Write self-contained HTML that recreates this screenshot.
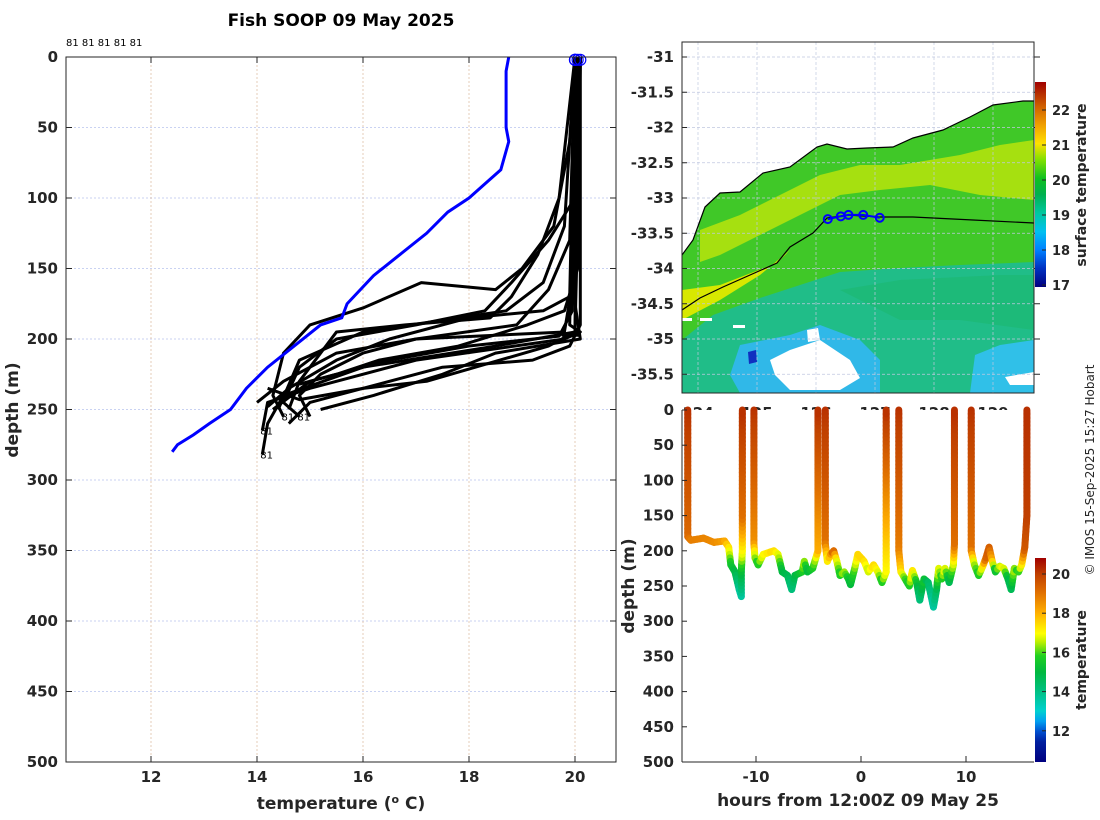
<!DOCTYPE html>
<html><head><meta charset="utf-8">
<style>
body{margin:0;background:#fff;}
svg{display:block;font-family:"DejaVu Sans","Liberation Sans",sans-serif;}
.tk{font-size:15px;font-weight:bold;fill:#262626;}
.lb{font-size:17px;font-weight:bold;fill:#262626;}
</style></head>
<body>
<svg id="fig" width="1100" height="820" viewBox="0 0 1100 820" xmlns="http://www.w3.org/2000/svg">
<defs>
<clipPath id="clipL"><rect x="66" y="57" width="550" height="705"/></clipPath>
<clipPath id="clipM"><rect x="682" y="42" width="352" height="351"/></clipPath>
<clipPath id="clipB"><rect x="682" y="406" width="352" height="356"/></clipPath>
<clipPath id="clipLab"><rect x="682" y="393" width="352" height="17"/></clipPath>
<linearGradient id="cbTop" x1="0" y1="1" x2="0" y2="0">
<stop offset="0" stop-color="#00007f"/><stop offset="0.09" stop-color="#0030c0"/><stop offset="0.18" stop-color="#0080ff"/><stop offset="0.27" stop-color="#00c0f0"/><stop offset="0.36" stop-color="#00c8a0"/><stop offset="0.45" stop-color="#00b050"/><stop offset="0.53" stop-color="#10c020"/><stop offset="0.62" stop-color="#80e000"/><stop offset="0.7" stop-color="#ffe000"/><stop offset="0.79" stop-color="#f0a000"/><stop offset="0.88" stop-color="#d06000"/><stop offset="1" stop-color="#a00000"/>
</linearGradient>
<linearGradient id="cbBot" x1="0" y1="1" x2="0" y2="0">
<stop offset="0" stop-color="#00007f"/><stop offset="0.1" stop-color="#0020a0"/><stop offset="0.15" stop-color="#0050d0"/><stop offset="0.2" stop-color="#00a0f0"/><stop offset="0.25" stop-color="#00d0d0"/><stop offset="0.35" stop-color="#00c080"/><stop offset="0.44" stop-color="#00b840"/><stop offset="0.52" stop-color="#20d020"/><stop offset="0.59" stop-color="#c0f000"/><stop offset="0.63" stop-color="#ffff00"/><stop offset="0.73" stop-color="#ffb000"/><stop offset="0.83" stop-color="#e07000"/><stop offset="0.92" stop-color="#c04000"/><stop offset="1" stop-color="#a00000"/>
</linearGradient>
</defs>
<text x="341" y="26" text-anchor="middle" style="font-size:17px;font-weight:bold">Fish SOOP 09 May 2025</text>
<g id="left"></g>
<g id="map"></g>
<g id="sect"></g>
<text transform="translate(1094,470) rotate(-90)" text-anchor="middle" style="font-size:12px;fill:#262626">© IMOS 15-Sep-2025 15:27 Hobart</text>
</svg>
<script>
// ---------- Data ----------
const xTicksL = [12, 14, 16, 18, 20];
const yTicksL = [0, 50, 100, 150, 200, 250, 300, 350, 400, 450, 500];
const meanTemp = [18.75,18.7,18.7,18.75,18.6,18.3,18.0,17.6,17.2,16.7,16.2,15.7,15.6,15.2,14.7,14.2,13.8,13.5,13.1,12.8,12.5,12.4];
const meanDepth = [0,10,50,60,80,90,100,110,125,140,155,175,185,190,205,220,235,250,260,268,275,280];
const profTemps = [
 [20,20,19.95,19.9,20.1,19.8,17,15,14.2,14.1],
 [20.1,20.05,20,18.5,16,14.5,14.2,14.1],
 [20,19.9,19.6,19,18.5,17.1,16,15,14.5,14.3,14.5],
 [20.05,20,19.5,18.8,18.3,17,15.5,14.8,14.5,14.8],
 [20,19.8,19.4,18.7,17.8,16,14.8,14.4],
 [20.1,20,19.8,17,16,15.2,14.8,15],
 [20,19.95,19.7,18,16.5,15,14.3],
 [20.05,20,20.1,18.5,17.5,16.2,15.2],
 [20,19.9,19.5,18.9,17,15.5,14.5,14],
 [20.1,20.1,19.9,19.2,17.5,16,15,14.6],
 [20,19.7,19.3,18.8,18.4,16.8,15.5,14.8,14.6],
 [20.05,20,19.5,17.2,16,14.8,14.2],
 [20,19.9,19.4,18,16.5,15.5,14.6,14.2],
 [20.1,20.05,19.8,19.1,17.8,16.3,15.5,14.8]
];
const profDepths = [
 [0,5,100,190,195,200,215,235,245,265],
 [0,120,195,205,220,240,260,282],
 [0,60,120,150,165,160,178,190,210,240,255],
 [0,100,130,160,180,190,200,220,245,255],
 [0,120,160,180,185,195,215,250],
 [0,150,195,200,210,225,240,255],
 [0,180,198,205,215,230,250],
 [0,175,200,210,225,240,250],
 [0,130,165,190,200,210,230,245],
 [0,190,205,215,220,235,245,260],
 [0,100,140,170,185,190,195,230,250],
 [0,195,205,230,235,243,235],
 [0,170,180,185,200,215,235,248],
 [0,150,180,190,205,215,225,232]
];
const latTicks = [-31,-31.5,-32,-32.5,-33,-33.5,-34,-34.5,-35,-35.5];
const lonTicks = [124,125,126,127,128,129];
const stationLon = [126.2,126.42,126.55,126.8,127.08];
const stationLat = [-33.3,-33.26,-33.24,-33.24,-33.28];
const sstTicks = [17,18,19,20,21,22];
const hrTicks = [-10,0,10];
const dTicksB = [0,50,100,150,200,250,300,350,400,450,500];
const tTicksB = [12,14,16,18,20];
const castHours = [
 [-16.5,-16.5,-16.2,-15,-14,-13,-12.6,-12.4,-12,-11.6,-11.4,-11.4,-11.3,-11.3,-11.3],
 [-10.2,-10.2,-10.1,-9.8,-9.3,-8.3,-7.9,-7.5,-7,-6.6,-6.3,-5.6,-5.4,-5.1,-4.6,-4.3,-4.1,-4.1],
 [-3.4,-3.4,-3.2,-2.9,-2.6,-2.3,-2,-1.6,-1.2,-1,-0.6,-0.3,0.3,0.7,1.2,1.6,2.0,2.4,2.4],
 [3.6,3.6,3.8,4.2,4.6,4.9,5.3,5.6,6,6.4,6.9,7.2,7.4,7.7,8,8.4,8.8,8.9,8.9],
 [10.5,10.5,10.8,11.2,11.6,11.9,12.2,12.5,12.8,13.2,13.6,14.0,14.3,14.6,15,15.3,15.6,15.8,15.8]
];
const castDepths = [
 [0,180,185,182,188,186,195,220,230,255,265,230,200,150,0],
 [0,190,210,220,205,200,205,230,235,255,235,230,215,230,225,210,200,0],
 [0,190,215,205,200,215,235,230,240,248,225,205,215,230,220,230,245,230,0],
 [0,200,230,240,250,228,245,270,240,245,280,255,225,240,225,245,220,190,0],
 [0,200,220,235,222,210,195,215,230,222,225,240,255,225,230,220,195,150,0]
];
const castTemps = [
 [20.2,19.2,18.8,18.7,18.6,18.3,17.5,15.5,15,13.8,13.5,15,17,19,20.2],
 [20.2,18.5,16.5,15.5,17,17.5,17,15,14.8,14,14.8,15.5,16.5,15,15.5,16.5,18,20.2],
 [20.2,19,17,18,19.5,17,15.5,16.5,15.5,15,16,17.5,17.5,16.5,17.5,17,15.5,17,20.2],
 [20.2,18.8,17.5,16,15.5,17.5,15.5,14,15.5,14.5,13.5,14.5,17,15.5,17,14.5,16.5,19,20.2],
 [20.2,19,16.5,15.5,17,19.2,19.5,18,15,16.5,17,15,14.5,16.5,15.5,17,19.5,20,20.2]
];

// ---------- helpers ----------
const NS = "http://www.w3.org/2000/svg";
function mk(tag, attrs, parent){const e=document.createElementNS(NS,tag);for(const k in attrs)e.setAttribute(k,attrs[k]);parent.appendChild(e);return e;}

// ---------- Left profile panel ----------
const L = document.getElementById('left');
const xL = t => 151 + (t-12)*53;
const yL = d => 57 + d*1.41;
yTicksL.forEach(v=>{
  const g=mk('line',{x1:66,x2:616,y1:yL(v),y2:yL(v),stroke:'#b8c4ee','stroke-width':0.8,'stroke-dasharray':'2,2'},L);
  
  
  const t=mk('text',{x:58,y:yL(v)+5,'text-anchor':'end',class:'tk'},L);t.textContent=v;
  
  
  mk('line',{x1:66,x2:72,y1:yL(v),y2:yL(v),stroke:'#262626'},L);
  mk('line',{x1:610,x2:616,y1:yL(v),y2:yL(v),stroke:'#262626'},L);
});
xTicksL.forEach(v=>{
  const g=mk('line',{x1:xL(v),x2:xL(v),y1:57,y2:762,stroke:'#e0c0a8','stroke-width':0.8,'stroke-dasharray':'2,2'},L);
  
  
  const t=mk('text',{x:xL(v),y:782,'text-anchor':'middle',class:'tk'},L);t.textContent=v;
  
  
  mk('line',{x1:xL(v),x2:xL(v),y1:57,y2:63,stroke:'#262626'},L);
  mk('line',{x1:xL(v),x2:xL(v),y1:756,y2:762,stroke:'#262626'},L);
});
const pl = mk('g',{'clip-path':'url(#clipL)'},L);
profTemps.forEach((arr,i)=>{
  const pts = arr.map((t,j)=>xL(t)+','+yL(profDepths[i][j])).join(' ');
  const p=mk('polyline',{points:pts,fill:'none',stroke:'#000','stroke-width':3,'stroke-linejoin':'round'},pl);
  
  
  const last=arr.length-1;
  if(i<4){const tx=mk('text',{x:xL(arr[last])-2,y:yL(profDepths[i][last])+4,style:'font-size:10px'},pl);tx.textContent='81';
  
  }
});
mk('line',{x1:xL(19.75),x2:xL(20.1),y1:yL(197),y2:yL(197),stroke:'#000','stroke-width':4},pl);
const mp=mk('polyline',{points:meanTemp.map((t,j)=>xL(t)+','+yL(meanDepth[j])).join(' '),fill:'none',stroke:'#0000ff','stroke-width':3},pl);


profTemps.slice(0,5).forEach(arr=>{
  const c=mk('circle',{cx:xL(arr[0]),cy:yL(2),r:5.5,fill:'none',stroke:'#0000ff','stroke-width':1.2},L);
  
  
});
mk('rect',{x:66,y:57,width:550,height:705,fill:'none',stroke:'#262626','stroke-width':1},L);
const lbl=mk('text',{x:66,y:46,style:'font-size:10px'},L);lbl.textContent='81 81 81 81 81';


const xt=mk('text',{x:341,y:809,'text-anchor':'middle',class:'lb'},L);xt.innerHTML='temperature (<tspan dy="-6" style="font-size:11px">o</tspan><tspan dy="6"> C)</tspan>';


const yt=mk('text',{transform:'translate(18,410) rotate(-90)','text-anchor':'middle',class:'lb'},L);yt.textContent='depth (m)';



// ---------- Map panel ----------
const M = document.getElementById('map');
const xM = lon => 698 + (lon-124)*59;
const yM = lat => 57 + (-31-lat)*70.5;
const mg = mk('g',{'clip-path':'url(#clipM)'},M);
const coast='682,255 693,240 705,207 720,193 740,192 763,173 790,167 817,147 827,144 847,149 867,148 893,147 913,138 943,130 970,117 993,105 1023,101 1034,101';
mk('polygon',{points:coast+' 1034,393 682,393',fill:'#40c828'},mg);
mk('polygon',{points:'700,230 740,215 780,195 820,175 860,165 900,165 960,155 1000,145 1034,140 1034,200 980,195 930,185 880,190 840,195 800,215 760,235 720,255 700,262',fill:'#a6e010'},mg);
mk('polygon',{points:'682,290 720,285 777,263 790,250 760,275 720,300 682,320',fill:'#d8e800'},mg);
mk('polygon',{points:'682,340 713,315 760,298 800,285 840,272 900,268 960,265 1034,262 1034,393 682,393',fill:'#20bd88'},mg);
mk('polygon',{points:'840,290 900,280 1000,275 1034,275 1034,330 960,320 900,320',fill:'#1cb870',opacity:0.6},mg);
mk('polygon',{points:'740,345 790,335 820,325 860,340 880,360 880,393 740,393 730,375',fill:'#30b8e8'},mg);
mk('polygon',{points:'975,355 1000,345 1034,340 1034,393 970,393',fill:'#30c0e8'},mg);
mk('polygon',{points:'770,360 790,350 820,340 835,350 850,360 860,378 840,390 790,390 775,375',fill:'#ffffff'},mg);
mk('polygon',{points:'807,330 818,328 820,340 808,342',fill:'#ffffff'},mg);
mk('polygon',{points:'748,352 756,350 757,362 749,364',fill:'#1030c0'},mg);
mk('polygon',{points:'1005,377 1034,372 1034,385 1010,385',fill:'#ffffff'},mg);
mk('rect',{x:682,y:318,width:10,height:3,fill:'#fff'},mg);
mk('rect',{x:700,y:318,width:12,height:3,fill:'#fff'},mg);
mk('rect',{x:733,y:325,width:12,height:3,fill:'#fff'},mg);
mk('polygon',{points:coast+' 1034,42 682,42',fill:'#ffffff'},mg);
latTicks.forEach(v=>mk('line',{x1:682,x2:1034,y1:yM(v),y2:yM(v),stroke:'#c0c8e0','stroke-width':0.7,'stroke-dasharray':'3,2'},mg));
lonTicks.forEach(v=>mk('line',{x1:xM(v),x2:xM(v),y1:42,y2:393,stroke:'#c0c8e0','stroke-width':0.7,'stroke-dasharray':'3,2'},mg));
const cl=mk('polyline',{points:coast,fill:'none',stroke:'#000','stroke-width':1.2},mg);


const iso=mk('polyline',{points:'682,310 700,298 723,287 777,263 790,247 813,233 827,218 847,215 880,217 913,217 973,220 1034,223',fill:'none',stroke:'#000','stroke-width':1.2},mg);


mk('polyline',{points:stationLon.map((l,i)=>xM(l)+','+yM(stationLat[i])).join(' '),fill:'none',stroke:'#0000ff','stroke-width':2},mg);
stationLon.forEach((l,i)=>{
  const c=mk('circle',{cx:xM(l),cy:yM(stationLat[i]),r:4,fill:'none',stroke:'#0000ff','stroke-width':2},mg);
  
  
});
mk('rect',{x:682,y:42,width:352,height:351,fill:'none',stroke:'#262626'},M);
latTicks.forEach(v=>{
  const t=mk('text',{x:674,y:yM(v)+5,'text-anchor':'end',class:'tk'},M);t.textContent=v;
  
  
  mk('line',{x1:682,x2:687,y1:yM(v),y2:yM(v),stroke:'#262626'},M);
  mk('line',{x1:1034,x2:1040,y1:yM(v),y2:yM(v),stroke:'#262626'},M);
});
const lg=mk('g',{'clip-path':'url(#clipLab)'},M);
lonTicks.forEach(v=>{
  const t=mk('text',{x:xM(v),y:418,'text-anchor':'middle',class:'tk'},lg);t.textContent=v;
  
  
});
const cbT=mk('rect',{x:1035,y:82,width:11,height:205,fill:'url(#cbTop)'},M);


const yCT = v => 285 - (v-17)*35;
sstTicks.forEach(v=>{
  const t=mk('text',{x:1052,y:yCT(v)+5,style:'font-size:13px;font-weight:bold;fill:#262626'},M);t.textContent=v;
  
  
  mk('line',{x1:1042,x2:1046,y1:yCT(v),y2:yCT(v),stroke:'#262626'},M);
});
const st=mk('text',{transform:'translate(1086,185) rotate(-90)','text-anchor':'middle',style:'font-size:14px;font-weight:bold;fill:#262626'},M);st.textContent='surface temperature';



// ---------- Section panel ----------
const S = document.getElementById('sect');
const xS = h => 861 + h*10.5;
const yS = d => 410 + d*0.704;
const stops=[[10.4,[0,0,127]],[11.5,[0,32,160]],[12,[0,80,208]],[12.5,[0,160,240]],[13,[0,208,208]],[14,[0,192,128]],[15,[0,184,64]],[15.8,[32,208,32]],[16.5,[192,240,0]],[17,[255,255,0]],[18,[255,176,0]],[19,[224,112,0]],[20,[192,64,0]],[20.8,[160,0,0]]];
function cmap(t){
  if(t<=stops[0][0])return 'rgb('+stops[0][1]+')';
  for(let i=1;i<stops.length;i++){if(t<=stops[i][0]){const a=stops[i-1],b=stops[i],f=(t-a[0])/(b[0]-a[0]);return 'rgb('+a[1].map((c,k)=>Math.round(c+(b[1][k]-c)*f)).join(',')+')';}}
  return 'rgb('+stops[stops.length-1][1]+')';
}
const sg=mk('g',{'clip-path':'url(#clipB)'},S);
castHours.forEach((hs,i)=>{
  const cg=mk('g',{},sg);
  
  
  for(let j=0;j<hs.length-1;j++){
    const x0=xS(hs[j]),y0=yS(castDepths[i][j]),x1=xS(hs[j+1]),y1=yS(castDepths[i][j+1]);
    const t0=castTemps[i][j],t1=castTemps[i][j+1];
    const n=Math.max(1,Math.ceil(Math.hypot(x1-x0,y1-y0)/4));
    for(let k=0;k<n;k++){
      const f0=k/n,f1=(k+1)/n;
      mk('line',{x1:x0+(x1-x0)*f0,y1:y0+(y1-y0)*f0,x2:x0+(x1-x0)*f1,y2:y0+(y1-y0)*f1,stroke:cmap(t0+(t1-t0)*(f0+f1)/2),'stroke-width':7,'stroke-linecap':'round'},cg);
    }
  }
});
mk('line',{x1:682,x2:682,y1:410,y2:762,stroke:'#262626'},S);
mk('line',{x1:682,x2:1034,y1:762,y2:762,stroke:'#262626'},S);
dTicksB.forEach(v=>{
  const t=mk('text',{x:674,y:yS(v)+5,'text-anchor':'end',class:'tk'},S);t.textContent=v;
  
  
  mk('line',{x1:682,x2:687,y1:yS(v),y2:yS(v),stroke:'#262626'},S);
});
hrTicks.forEach(v=>{
  const t=mk('text',{x:xS(v),y:782,'text-anchor':'middle',class:'tk'},S);t.textContent=v;
  
  
  mk('line',{x1:xS(v),x2:xS(v),y1:756,y2:762,stroke:'#262626'},S);
});
const hx=mk('text',{x:858,y:806,'text-anchor':'middle',class:'lb'},S);hx.textContent='hours from 12:00Z 09 May 25';


const hy=mk('text',{transform:'translate(634,586) rotate(-90)','text-anchor':'middle',class:'lb'},S);hy.textContent='depth (m)';


const cbB=mk('rect',{x:1035,y:558,width:11,height:204,fill:'url(#cbBot)'},S);


const yCB = v => 574 + (20-v)*19.6;
tTicksB.forEach(v=>{
  const t=mk('text',{x:1052,y:yCB(v)+5,style:'font-size:13px;font-weight:bold;fill:#262626'},S);t.textContent=v;
  
  
  mk('line',{x1:1042,x2:1046,y1:yCB(v),y2:yCB(v),stroke:'#262626'},S);
});
const ct=mk('text',{transform:'translate(1086,660) rotate(-90)','text-anchor':'middle',style:'font-size:14px;font-weight:bold;fill:#262626'},S);ct.textContent='temperature';


</script>
</body></html>
